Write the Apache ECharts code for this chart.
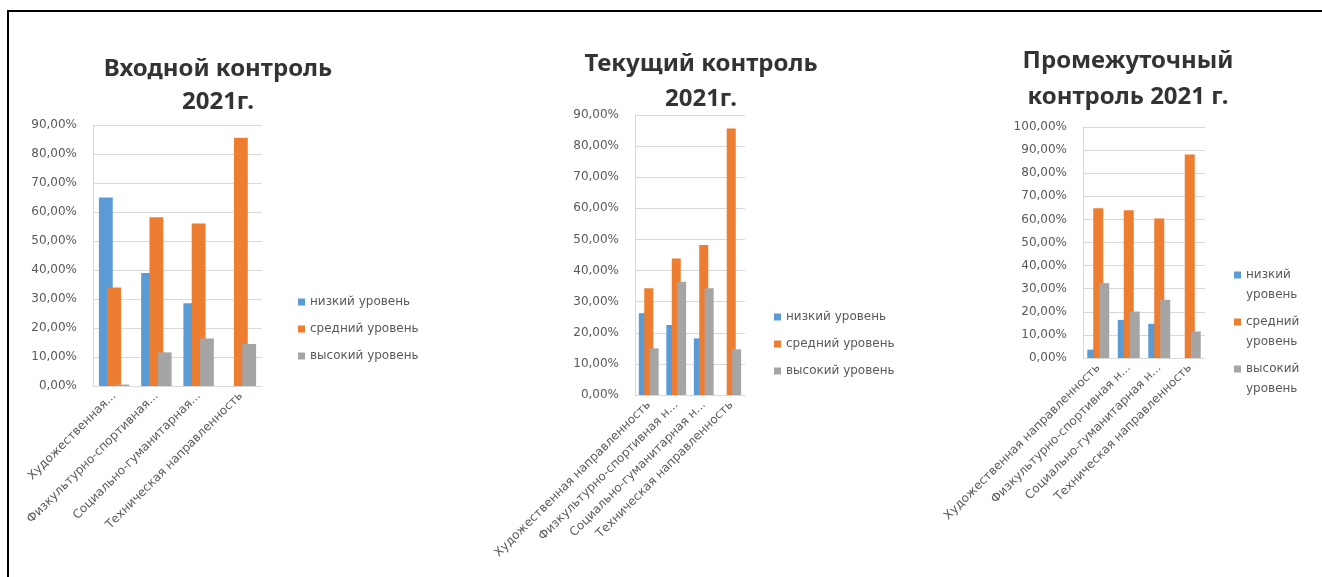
<!DOCTYPE html>
<html>
<head>
<meta charset="utf-8">
<script src="https://cdn.jsdelivr.net/npm/echarts@6/dist/echarts.min.js"></script>
<style>
html,body{margin:0;padding:0;background:#fff;}
#c{width:1322px;height:577px;}
</style>
</head>
<body>
<div id="c"></div>
<script>
// ---- data ----
const seriesNames = ['низкий уровень', 'средний уровень', 'высокий уровень'];
const labels1 = ['Художественная...', 'Физкультурно-спортивная...', 'Социально-гуманитарная...', 'Техническая направленность'];
const labels23 = ['Художественная направленность', 'Физкультурно-спортивная н...', 'Социально-гуманитарная н...', 'Техническая направленность'];

const title1 = 'Входной контроль\n2021г.';
const title2 = 'Текущий контроль\n2021г.';
const title3 = 'Промежуточный\nконтроль 2021 г.';

// Входной контроль (percent)
const in_low  = [65, 39, 28.5, 0];
const in_mid  = [34, 58.2, 56, 85.6];
const in_high = [0.5, 11.6, 16.4, 14.5];
// Текущий контроль
const cur_low  = [26.3, 22.5, 18.2, 0];
const cur_mid  = [34.3, 43.9, 48.2, 85.7];
const cur_high = [15, 36.4, 34.3, 14.7];
// Промежуточный контроль
const mid_low  = [3.6, 16.5, 14.8, 0];
const mid_mid  = [64.8, 64, 60.4, 88.1];
const mid_high = [32.4, 20.1, 25.2, 11.5];

const yMax = [90, 90, 100];
const yTickStep = 10;

// ---- styles ----
const colors = ['#5B9BD5', '#ED7D31', '#A5A5A5'];
const txt = '#595959';
const font = 'DejaVu Sans';
const fmt = v => v.toFixed(2).replace('.', ',') + '%';

const grids = [
  {left: 93, top: 125, width: 169, height: 261},
  {left: 635, top: 115, width: 110, height: 280},
  {left: 1083, top: 127, width: 122, height: 231}
];
const catLabels = [labels1, labels23, labels23];
const dataSets = [
  [in_low, in_mid, in_high],
  [cur_low, cur_mid, cur_high],
  [mid_low, mid_mid, mid_high]
];

const option = {
  animation: false,
  color: colors,
  textStyle: {fontFamily: font},
  title: [
    {text: title1, left: 213, top: 48},
    {text: title2, left: 696, top: 42},
    {text: title3, left: 1123, top: 38}
  ].map((t, i) => Object.assign(t, {
    textAlign: 'center',
    textStyle: {fontFamily: 'Noto Sans', fontWeight: 'bold', fontSize: 24, color: '#333333', lineHeight: [33, 35, 36][i]}
  })),
  grid: grids.map(g => Object.assign({containLabel: false}, g)),
  xAxis: catLabels.map((labs, i) => ({
    type: 'category', gridIndex: i, data: labs,
    axisLine: {lineStyle: {color: '#D9D9D9', width: 1}},
    axisTick: {show: false},
    axisLabel: {rotate: 45, interval: 0, color: txt, fontSize: 12, fontFamily: font, margin: 8}
  })),
  yAxis: yMax.map((m, i) => ({
    type: 'value', gridIndex: i, min: 0, max: m, interval: yTickStep,
    axisLine: {show: true, lineStyle: {color: '#D9D9D9'}},
    axisTick: {show: false},
    splitLine: {lineStyle: {color: '#D9D9D9', width: 1}},
    axisLabel: {formatter: fmt, color: txt, fontSize: 12, fontFamily: font, margin: 16}
  })),
  legend: [
    {left: 293, top: 291, itemGap: 15, icon: 'rect', itemHeight: 7},
    {left: 769, top: 306, itemGap: 15, icon: 'rect', itemHeight: 7},
    {left: 1229, top: 260, itemGap: 7, formatter: n => n.replace(' ', '\n'),
     icon: 'path://M0,0L7,0L7,7L0,7Z M0,26.99L0.01,26.99L0.01,27L0,27Z', itemHeight: 27,
     textStyle: {lineHeight: 20}}
  ].map((l, i) => Object.assign({
    id: 'lg' + i,
    orient: 'vertical', itemWidth: 7,
    data: seriesNames
  }, l, {
    textStyle: Object.assign({color: txt, fontSize: 12, fontFamily: font}, l.textStyle || {})
  })),
  series: [],
  graphic: [
    {type: 'rect', shape: {x: 8, y: 11, width: 1340, height: 620}, style: {fill: 'none', stroke: '#000', lineWidth: 2}, silent: true}
  ]
};

dataSets.forEach((sets, gi) => {
  sets.forEach((vals, si) => {
    option.series.push({
      type: 'bar', name: seriesNames[si], xAxisIndex: gi, yAxisIndex: gi,
      data: vals, barGap: '-40%', barCategoryGap: '28%',
      itemStyle: {color: colors[si]}
    });
  });
});

const chart = echarts.init(document.getElementById('c'), null, {renderer: 'canvas'});
chart.setOption(option);
</script>
</body>
</html>
